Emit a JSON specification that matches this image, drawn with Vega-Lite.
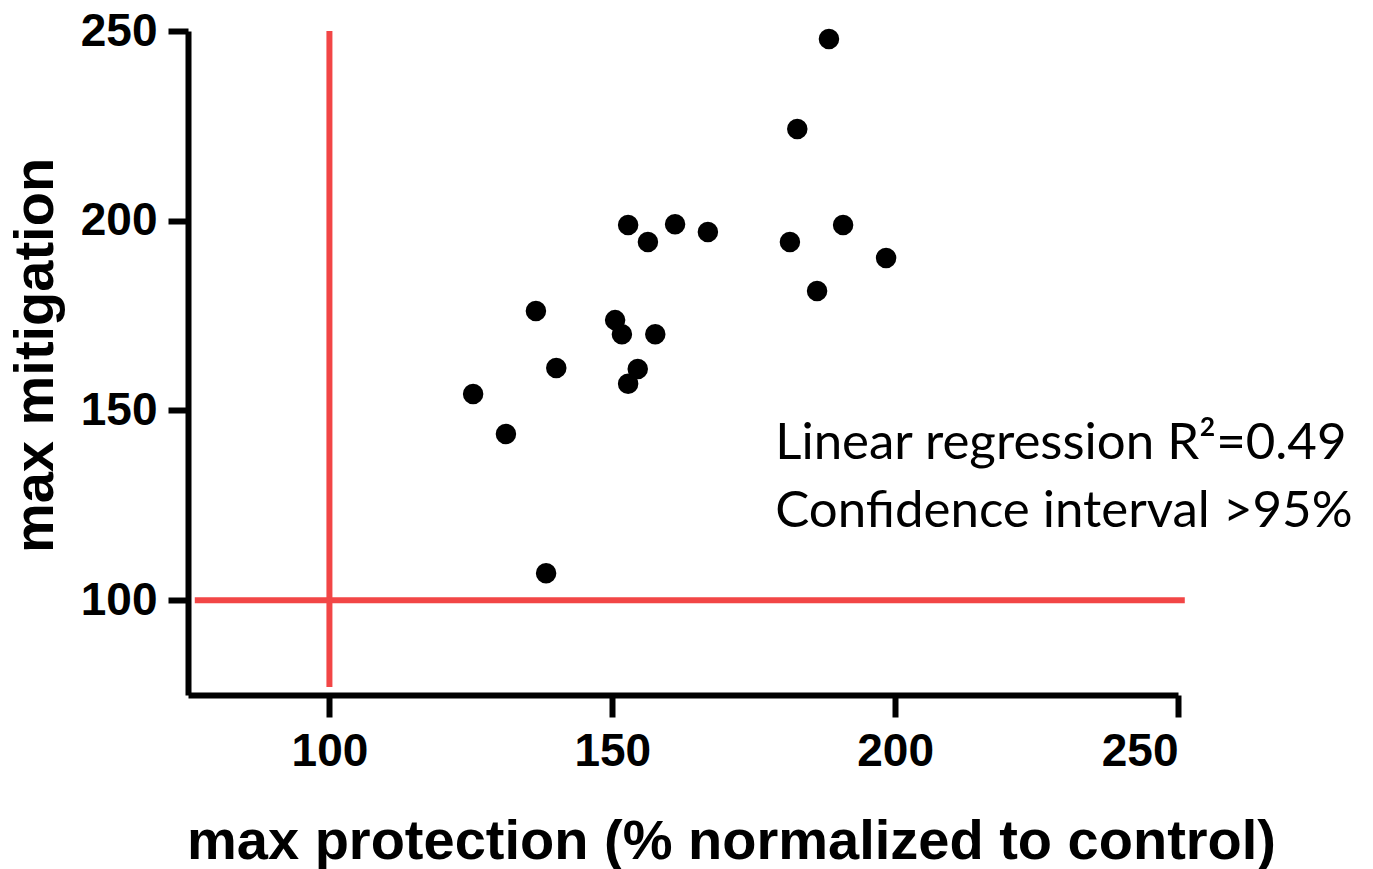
{
  "$schema": "https://vega.github.io/schema/vega-lite/v6.json",
  "width": 990,
  "height": 664,
  "autosize": {"type": "none"},
  "padding": {"left": 188, "top": 31, "right": 195, "bottom": 174},
  "background": "white",
  "config": {"view": {"stroke": null}, "font": "Liberation Sans"},
  "datasets": {
    "points": [
      {"protection": 188.3, "mitigation": 247.9},
      {"protection": 182.7, "mitigation": 224.2},
      {"protection": 152.8, "mitigation": 198.9},
      {"protection": 161.1, "mitigation": 199.1},
      {"protection": 166.9, "mitigation": 197.0},
      {"protection": 156.3, "mitigation": 194.4},
      {"protection": 181.4, "mitigation": 194.4},
      {"protection": 190.8, "mitigation": 198.9},
      {"protection": 198.4, "mitigation": 190.2},
      {"protection": 186.2, "mitigation": 181.5},
      {"protection": 136.5, "mitigation": 176.2},
      {"protection": 150.5, "mitigation": 173.8},
      {"protection": 151.7, "mitigation": 170.1},
      {"protection": 157.6, "mitigation": 170.1},
      {"protection": 140.1, "mitigation": 161.2},
      {"protection": 154.5, "mitigation": 160.9},
      {"protection": 152.8, "mitigation": 157.0},
      {"protection": 125.4, "mitigation": 154.3},
      {"protection": 131.2, "mitigation": 143.8},
      {"protection": 138.3, "mitigation": 107.1}
    ],
    "refs": [
      {"x": 100, "x2": 100, "y": 77.1, "y2": 250},
      {"x": 76.2, "x2": 251.2, "y": 100, "y2": 100}
    ],
    "notes": [
      {"x": 178.8, "y": 137.2, "label": "Linear regression R²=0.49"},
      {"x": 178.8, "y": 119.3, "label": "Confidence interval >95%"}
    ]
  },
  "layer": [
    {
      "data": {"name": "points"},
      "mark": {"type": "circle", "color": "black", "opacity": 1, "size": 420},
      "encoding": {
        "x": {
          "field": "protection", "type": "quantitative",
          "scale": {"domain": [75, 250], "nice": false, "zero": false},
          "axis": {
            "values": [100, 150, 200, 250], "grid": false,
            "domainColor": "black", "domainWidth": 6, "tickColor": "black", "tickWidth": 6, "tickSize": 22,
            "labelFont": "Liberation Sans", "labelFontWeight": "bold", "labelFontSize": 46, "labelColor": "black", "labelPadding": 12,
            "title": "max protection (% normalized to control)",
            "titleFont": "Liberation Sans", "titleFontWeight": "bold", "titleFontSize": 56, "titleColor": "black",
            "titleX": 543, "titleY": 163, "titleAlign": "center", "titleBaseline": "alphabetic"
          }
        },
        "y": {
          "field": "mitigation", "type": "quantitative",
          "scale": {"domain": [75, 250], "nice": false, "zero": false},
          "axis": {
            "values": [100, 150, 200, 250], "grid": false,
            "domainColor": "black", "domainWidth": 6, "tickColor": "black", "tickWidth": 6, "tickSize": 20,
            "labelFont": "Liberation Sans", "labelFontWeight": "bold", "labelFontSize": 46, "labelColor": "black", "labelPadding": 11,
            "title": "max mitigation",
            "titleFont": "Liberation Sans", "titleFontWeight": "bold", "titleFontSize": 56, "titleColor": "black",
            "titleX": -136, "titleY": 324, "titleAngle": 270, "titleAlign": "center", "titleBaseline": "alphabetic"
          }
        }
      }
    },
    {
      "data": {"name": "refs"},
      "mark": {"type": "rule", "color": "#f24646", "strokeWidth": 6},
      "encoding": {
        "x": {"field": "x", "type": "quantitative"},
        "x2": {"field": "x2"},
        "y": {"field": "y", "type": "quantitative"},
        "y2": {"field": "y2"}
      }
    },
    {
      "data": {"name": "notes"},
      "mark": {"type": "text", "align": "left", "baseline": "alphabetic", "font": "Lato", "fontSize": 51, "color": "black"},
      "encoding": {
        "x": {"field": "x", "type": "quantitative"},
        "y": {"field": "y", "type": "quantitative"},
        "text": {"field": "label"}
      }
    }
  ]
}
